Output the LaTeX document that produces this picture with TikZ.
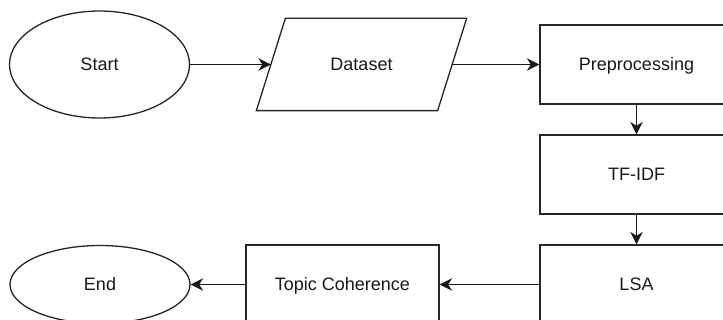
\documentclass[tikz,border=0pt]{standalone}
\usepackage{fontspec}
\setmainfont{Liberation Sans}
\usetikzlibrary{shapes.geometric,arrows.meta}

\tikzset{
  base/.style={line width=1.3pt, inner sep=0pt, text=black!90,
    font=\fontsize{18}{21}\selectfont, text height=13pt, text depth=0pt},
  terminal/.style={base, draw=black!85, ellipse, minimum width=180, minimum height=#1},
  iobox/.style={base, rectangle, minimum width=180, minimum height=91},
  process/.style={base, draw=black!85, rectangle, minimum width=193, minimum height=79},
  outline/.style={draw=black!85, line width=1.3pt, line join=miter},
  flow/.style={draw=black!90, line width=1.4pt, -{Stealth[length=12.5pt,width=12.5pt,inset=4pt]}}
}

\begin{document}
\begin{tikzpicture}[x=1pt,y=-1pt]
  \useasboundingbox (0,0) rectangle (723,320);
  \clip (0,0) rectangle (723,320);
  \fill[white] (0,0) rectangle (723,320);

  % top row
  \node[terminal=107] (start) at (99.5,64.5) {Start};
  \node[iobox] (data) at (361.5,64.5) {Dataset};
  \draw[outline] ([xshift=14.5pt]data.north west) -- ([xshift=14.5pt]data.north east)
    -- ([xshift=-14.5pt]data.south east) -- ([xshift=-14.5pt]data.south west) -- cycle;
  \node[process] (prep) at (636.5,64.5) {Preprocessing};

  % right column
  \node[process] (tfidf) at (636.5,174.5) {TF-IDF};
  \node[process] (lsa) at (636.5,284.5) {LSA};

  % bottom row
  \node[process] (topic) at (342.5,284.5) {Topic Coherence};
  \node[terminal=78] (end) at (100,284.5) {End};

  % connectors
  \draw[flow] (start) -- (data.west);
  \draw[flow] (data.east) -- (prep);
  \draw[flow] (prep) -- (tfidf);
  \draw[flow] (tfidf) -- (lsa);
  \draw[flow] (lsa) -- (topic);
  \draw[flow] (topic) -- (end);
\end{tikzpicture}
\end{document}
